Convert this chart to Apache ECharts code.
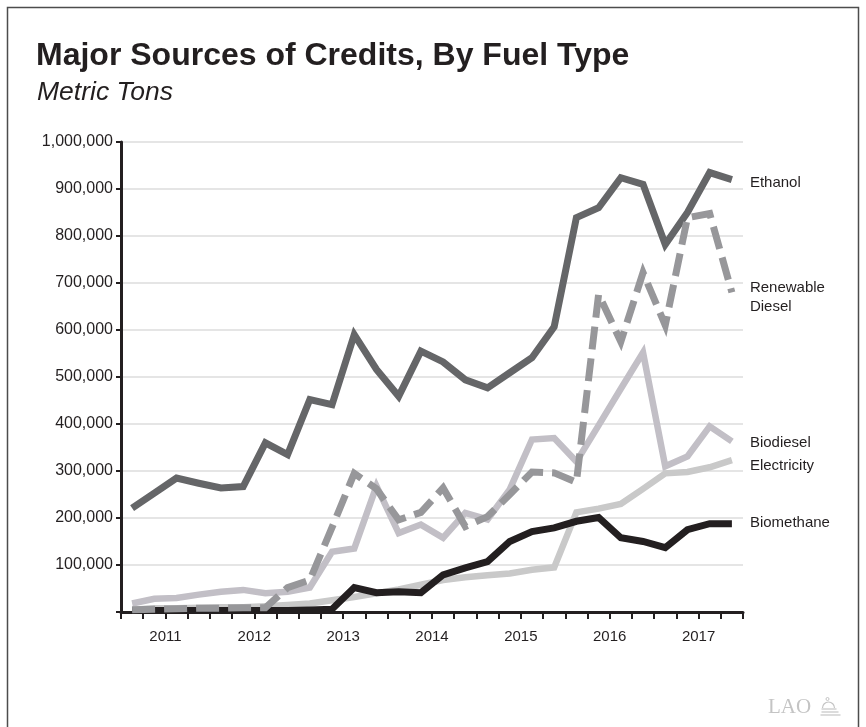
<!DOCTYPE html>
<html>
<head>
<meta charset="utf-8">
<script src="https://cdn.jsdelivr.net/npm/echarts@6/dist/echarts.min.js"></script>
<style>
html,body{margin:0;padding:0;background:#fff;}
#chart{width:866px;height:727px;}
</style>
</head>
<body>
<div id="chart"></div>
<script>
// Quarterly categories 2011 Q1 – 2017 Q4
const years = ['2011','2012','2013','2014','2015','2016','2017'];
const quarters = [];
years.forEach(y => ['Q1','Q2','Q3','Q4'].forEach(q => quarters.push(y + ' ' + q)));

// Values in metric tons
const ethanol     = [221000,253000,285000,274000,264000,267000,360000,335000,452000,441000,590000,516000,459000,555000,532000,494000,477000,509000,541000,607000,839000,860000,924000,910000,782000,850000,935000,920000];
const renewableDiesel = [5000,6000,7000,8000,8000,9000,9000,52000,68000,180000,295000,262000,196000,212000,264000,182000,203000,250000,298000,296000,276000,676000,575000,722000,610000,839000,848000,680000];
const biodiesel   = [18000,28000,30000,37000,43000,47000,40000,43000,52000,128000,135000,268000,168000,186000,158000,211000,197000,261000,367000,370000,320000,397000,475000,552000,310000,331000,395000,363000];
const electricity = [5000,8000,8000,9000,10000,10000,12000,15000,18000,25000,32000,40000,48000,58000,68000,74000,78000,82000,90000,95000,212000,220000,230000,262000,295000,298000,308000,323000];
const biomethane  = [3000,3000,3000,3000,3000,3000,3000,3000,4000,6000,52000,41000,43000,41000,79000,94000,107000,150000,171000,179000,193000,201000,158000,150000,137000,175000,188000,188000];

const seriesNames = ['Electricity','Biodiesel','Biomethane','Ethanol','Renewable Diesel'];
const seriesLabels = ['Electricity','Biodiesel','Biomethane','Ethanol','Renewable\nDiesel'];

const chart = echarts.init(document.getElementById('chart'), null, {renderer:'canvas'});
const fmt = v => v === 0 ? '' : v.toString().replace(/\B(?=(\d{3})+(?!\d))/g, ',');

function mk(i, data, color, width, dash, offset){
  return {
    name: seriesNames[i], type: 'line', data: data, xAxisIndex: 0,
    symbol: 'none', silent: true,
    lineStyle: {color: color, width: width, type: dash || 'solid', join: 'miter', cap: 'butt'},
    endLabel: {show: true, formatter: () => seriesLabels[i], color: '#231f20',
      fontFamily: 'Liberation Sans, Arial, sans-serif', fontSize: 15, distance: 18,
      lineHeight: 19, offset: offset || [0,0]}
  };
}

chart.setOption({
  animation: false,
  backgroundColor: '#fff',
  title: [
    {text: 'Major Sources of Credits, By Fuel Type', left: 36, top: 40, padding: 0,
     textStyle: {fontFamily: 'Liberation Sans, Arial, sans-serif', fontWeight: 'bold', fontSize: 32, color: '#231f20'}},
    {text: 'Metric Tons', left: 37, top: 79, padding: 0,
     textStyle: {fontFamily: 'Liberation Sans, Arial, sans-serif', fontStyle: 'italic', fontWeight: 'normal', fontSize: 26.5, color: '#231f20'}}
  ],
  grid: {left: 121, right: 123, top: 142, bottom: 115, containLabel: false},
  xAxis: [
    {type: 'category', data: quarters, boundaryGap: true,
     axisLine: {show: true, lineStyle: {color: '#231f20', width: 3}},
     axisTick: {show: true, interval: 0, length: 7, lineStyle: {color: '#231f20', width: 2}},
     axisLabel: {show: false}, splitLine: {show: false}},
    {type: 'category', data: years, boundaryGap: true, position: 'bottom',
     axisLine: {show: false}, axisTick: {show: false}, splitLine: {show: false},
     axisLabel: {show: true, margin: 17, color: '#231f20', fontSize: 15,
       fontFamily: 'Liberation Sans, Arial, sans-serif'}}
  ],
  yAxis: {
    type: 'value', min: 0, max: 1000000, interval: 100000,
    axisLine: {show: true, lineStyle: {color: '#231f20', width: 3}},
    axisTick: {show: true, length: 5, lineStyle: {color: '#231f20', width: 2}},
    axisLabel: {formatter: fmt, color: '#231f20', fontSize: 16, margin: 8,
      fontFamily: 'Liberation Sans, Arial, sans-serif'},
    splitLine: {show: true, lineStyle: {color: '#dcdcdc', width: 1.5}}
  },
  series: [
    mk(0, electricity, '#c9c9c9', 6.5, null, [0, 6]),
    mk(1, biodiesel, '#c2bfc6', 6.5, null, [0, 1]),
    mk(2, biomethane, '#231f20', 7, null, [0, -1]),
    mk(3, ethanol, '#656668', 7, null, [0, 3]),
    mk(4, renewableDiesel, '#97979a', 7, [23, 9], [0, 5])
  ],
  graphic: [
    {type: 'rect', shape: {x: 7.5, y: 7.5, width: 851, height: 740},
     style: {fill: 'none', stroke: '#4d4d4d', lineWidth: 1.5}, silent: true, z: 100},
    {type: 'text', left: 768, top: 697,
     style: {text: 'LAO', fill: '#c4c4c4', font: '21px "Liberation Serif", "DejaVu Serif", serif'}},
    {type: 'group', left: 818, top: 695, children: [
      {type: 'circle', shape: {cx: 6, cy: 2, r: 1.5}, style: {fill: 'none', stroke: '#c4c4c4', lineWidth: 1}},
      {type: 'arc', shape: {cx: 7, cy: 11, r: 6, startAngle: Math.PI, endAngle: 2*Math.PI}, style: {fill: 'none', stroke: '#c4c4c4', lineWidth: 1.2}},
      {type: 'line', shape: {x1: 0, y1: 12, x2: 15, y2: 12}, style: {stroke: '#c4c4c4', lineWidth: 1.2}},
      {type: 'line', shape: {x1: 0, y1: 15, x2: 17, y2: 15}, style: {stroke: '#c4c4c4', lineWidth: 1.2}},
      {type: 'line', shape: {x1: -1, y1: 18, x2: 19, y2: 18}, style: {stroke: '#c4c4c4', lineWidth: 1.2}}
    ]}
  ]
});
</script>
</body>
</html>
